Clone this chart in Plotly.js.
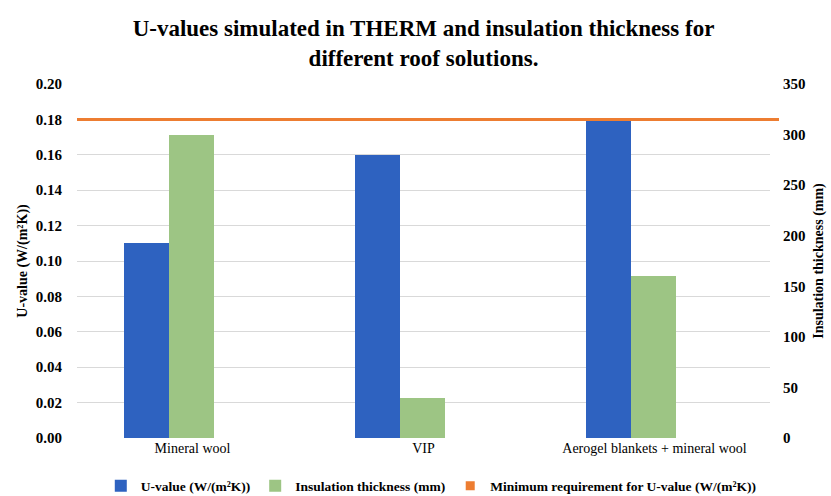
<!DOCTYPE html>
<html>
<head>
<meta charset="utf-8">
<script src="https://cdn.plot.ly/plotly-3.0.1.min.js"></script>
<style>html,body{margin:0;padding:0;background:#fff;}#chart{width:831px;height:496px;}</style>
</head>
<body>
<div id="chart"></div>
<script>
const categories = ["Mineral wool", "VIP", "Aerogel blankets + mineral wool"];
const uValues = [0.11, 0.16, 0.18];
const thickness = [300, 40, 160];
const minRequirement = [0.18, 0.18, 0.18];
const leftTicks = [0, 0.02, 0.04, 0.06, 0.08, 0.10, 0.12, 0.14, 0.16, 0.18, 0.20];
const rightTicks = [0, 50, 100, 150, 200, 250, 300, 350];

const FONT = "Liberation Serif, Times New Roman, serif";

const traces = [
  {
    type: "bar", name: "U-value (W/(m²K))", x: categories, y: uValues,
    yaxis: "y", marker: {color: "#2E62C0"}, width: 0.195, offset: -0.295,
    hoverinfo: "x+y"
  },
  {
    type: "bar", name: "Insulation thickness (mm)", x: categories, y: thickness,
    yaxis: "y2", marker: {color: "#9DC584"}, width: 0.195, offset: -0.1,
    hoverinfo: "x+y"
  },
  {
    type: "scatter", mode: "markers", name: "Minimum requirement for U-value (W/(m²K))",
    x: [null], y: [null], yaxis: "y",
    marker: {color: "#ED7D31", symbol: "square", size: 9}
  }
];

const layout = {
  width: 831, height: 496,
  margin: {l: 77, r: 61, t: 84, b: 58},
  paper_bgcolor: "#fff", plot_bgcolor: "#fff",
  font: {family: FONT, color: "#000"},
  title: {
    text: "<b>U-values simulated in THERM and insulation thickness for<br>different roof solutions.</b>",
    font: {family: FONT, size: 23, color: "#000"},
    x: 0.5, xanchor: "center", xref: "paper", y: 0.927, yanchor: "middle", yref: "container"
  },
  xaxis: {
    type: "category", range: [-0.5, 2.5], showgrid: false, zeroline: false,
    showline: false, ticks: "", tickfont: {family: FONT, size: 14, color: "#000"}
  },
  yaxis: {
    range: [0, 0.2], tickvals: leftTicks, tickformat: ".2f",
    showgrid: true, gridcolor: "#d9d9d9", gridwidth: 1, zeroline: false, showline: false,
    tickfont: {family: FONT, size: 15, color: "#000", weight: "bold"},
    ticks: "", ticklabelstandoff: 14,
    title: {text: "<b>U-value (W/(m²K))</b>", font: {family: FONT, size: 14, color: "#000"}, standoff: 4}
  },
  yaxis2: {
    range: [0, 350], tickvals: rightTicks, overlaying: "y", side: "right",
    showgrid: false, zeroline: false, showline: false, ticks: "", ticklabelstandoff: 12,
    tickfont: {family: FONT, size: 15, color: "#000", weight: "bold"},
    title: {text: "<b>Insulation thickness (mm)</b>", font: {family: FONT, size: 14, color: "#000"}, standoff: 8}
  },
  shapes: [{
    type: "line", xref: "paper", yref: "y", x0: 0, x1: 1.013,
    y0: minRequirement[0], y1: minRequirement[minRequirement.length - 1],
    line: {color: "#ED7D31", width: 3}, layer: "above"
  }],
  showlegend: true,
  legend: {
    orientation: "h", x: 0.519, xref: "container", xanchor: "center",
    y: 0.02, yref: "container", yanchor: "middle",
    font: {family: FONT, size: 13.5, color: "#000", weight: "bold"},
    itemwidth: 30, traceorder: "normal"
  },
  bargap: 0
};

Plotly.newPlot("chart", traces, layout, {displayModeBar: false, staticPlot: true});
</script>
</body>
</html>
